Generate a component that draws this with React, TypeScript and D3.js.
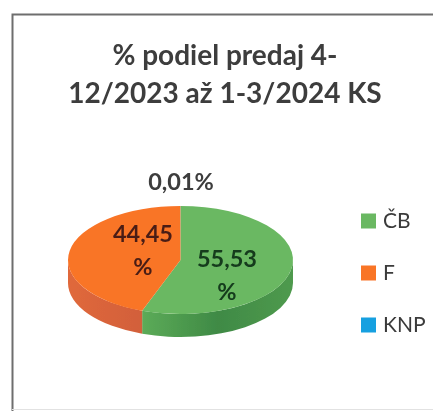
import React from "react";
import * as d3 from "d3";

const categories = ["ČB", "F", "KNP"];
const values = [55.53, 44.45, 0.01];
const valueLabels = [["55,53", "%"], ["44,45", "%"], ["0,01%"]];
const titleLines = ["% podiel predaj 4-", "12/2023 až 1-3/2024 KS"];
const colors = ["#6bb862", "#f97428", "#12a0e0"];
const sideColors = ["#4f9a4e", "#d9602f", "#0c80b8"];

const W = 433, H = 411;
const cx = 180.5, cy = 260, rx = 112.5, ry = 54, depth = 23;
const FONT = "Lato, 'Open Sans', sans-serif";

const pt = (a: number, dy = 0): [number, number] => [cx + rx * Math.sin(a), cy - ry * Math.cos(a) + dy];

function topPath(a0: number, a1: number) {
  const p0 = pt(a0), p1 = pt(a1);
  const large = a1 - a0 > Math.PI ? 1 : 0;
  return `M${cx},${cy}L${p0[0]},${p0[1]}A${rx},${ry} 0 ${large} 1 ${p1[0]},${p1[1]}Z`;
}

function sidePath(a0: number, a1: number) {
  const s = Math.max(a0, Math.PI / 2), e = Math.min(a1, (3 * Math.PI) / 2);
  if (e <= s) return "";
  const p0 = pt(s), p1 = pt(e), q1 = pt(e, depth), q0 = pt(s, depth);
  return `M${p0[0]},${p0[1]}A${rx},${ry} 0 0 1 ${p1[0]},${p1[1]}L${q1[0]},${q1[1]}A${rx},${ry} 0 0 0 ${q0[0]},${q0[1]}Z`;
}

export default function App() {
  const slices = d3.pie<number>().sort(null)(values);
  const legendY = d3.scalePoint<string>().domain(categories).range([221, 325]);
  const labelPos: [number, number, number][] = [
    [227, 267, 300],
    [143, 242, 275],
    [181, 190, 0],
  ];
  return (
    <div style={{ position: "fixed", left: 0, top: 0, width: W, height: H, background: "#fff" }}>
      <svg width={W} height={H} style={{ display: "block" }}>
        <defs>
          <filter id="scan" x="-5%" y="-5%" width="110%" height="110%">
            <feGaussianBlur stdDeviation="0.6" />
          </filter>
          <linearGradient id="side0" x1="0" x2="1" y1="0" y2="0">
            <stop offset="0" stopColor="#5cab58" />
            <stop offset="0.5" stopColor="#3f8a45" />
            <stop offset="1" stopColor="#4f9a4e" />
          </linearGradient>
          <linearGradient id="side1" x1="0" x2="1" y1="0" y2="0">
            <stop offset="0" stopColor="#e0683a" />
            <stop offset="1" stopColor="#d2603a" />
          </linearGradient>
        </defs>
        <g filter="url(#scan)">
          <path d={`M12.5,411V14.5H433`} fill="none" stroke="#6e6e6e" strokeWidth={2} />
          <path d={`M12,409.5H433`} fill="none" stroke="#e2e2e2" strokeWidth={1} />
          {titleLines.map((t, i) => (
            <text key={t} x={225} y={65 + i * 38} textAnchor="middle" fontFamily={FONT} fontWeight={700} fontSize={28} fill="#3c3c3c">{t}</text>
          ))}
          {slices.map((s, i) => (
            <path key={"side" + i} d={sidePath(s.startAngle, s.endAngle)} fill={i < 2 ? `url(#side${i})` : sideColors[i]} />
          ))}
          {slices.map((s, i) => (
            <path key={"top" + i} d={topPath(s.startAngle, s.endAngle)} fill={colors[i]} />
          ))}
          {valueLabels.map((lines, i) =>
            lines.map((l, j) => (
              <text key={l + j} x={labelPos[i][0]} y={labelPos[i][1 + j]} textAnchor="middle" fontFamily={FONT} fontWeight={700} fontSize={23.5}
                fill={i === 0 ? "#123a1c" : i === 1 ? "#4a1f14" : "#3c3c3c"}>{l}</text>
            ))
          )}
          {categories.map((c, i) => {
            const y = legendY(c)!;
            return (
              <g key={c}>
                <rect x={361} y={y - 7.5} width={15} height={15} fill={colors[i]} />
                <text x={383} y={y + 7} fontFamily={FONT} fontSize={21} fill="#3a3a3a">{c}</text>
              </g>
            );
          })}
        </g>
      </svg>
    </div>
  );
}
